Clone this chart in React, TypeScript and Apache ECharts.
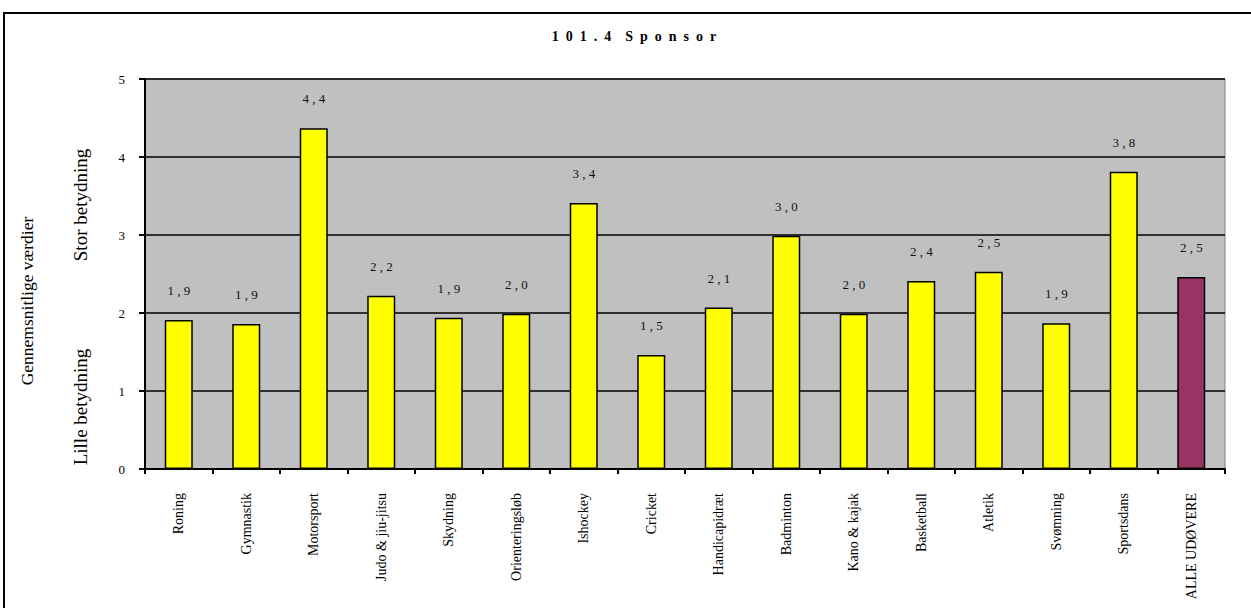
import React, { useEffect, useRef } from "react";
import * as echarts from "echarts";

const categories = [
  "Roning",
  "Gymnastik",
  "Motorsport",
  "Judo & jiu-jitsu",
  "Skydning",
  "Orienteringsløb",
  "Ishockey",
  "Cricket",
  "Handicapidræt",
  "Badminton",
  "Kano & kajak",
  "Basketball",
  "Atletik",
  "Svømning",
  "Sportsdans",
  "ALLE UDØVERE",
];

const values = [1.91, 1.86, 4.37, 2.22, 1.94, 1.99, 3.41, 1.46, 2.07, 2.99, 1.99, 2.41, 2.53, 1.87, 3.81, 2.46];

const yTicks = [0, 1, 2, 3, 4, 5];

const title = "1  0  1  .  4    S  p  o  n  s  o  r";
const yName = "Gennemsnitlige værdier";
const yHigh = "Stor betydning";
const yLow = "Lille betydning";

const SERIF = "Liberation Serif, Times New Roman, serif";

export default function App() {
  const ref = useRef<HTMLDivElement>(null);
  useEffect(() => {
    if (!ref.current) return;
    const chart = echarts.init(ref.current, null, { renderer: "svg" });
    const fmt = (v: number) => {
      const s = v.toFixed(1).split(".");
      return `${s[0]} , ${s[1]}`;
    };
    chart.setOption({
      animation: false,
      backgroundColor: "#ffffff",
      textStyle: { fontFamily: SERIF },
      grid: {
        left: 145,
        top: 79,
        width: 1080,
        height: 390,
        show: true,
        backgroundColor: "#C0C0C0",
        borderColor: "#808080",
        borderWidth: 1,
      },
      xAxis: {
        type: "category",
        data: categories,
        axisLine: { show: true, lineStyle: { color: "#000", width: 2 } },
        axisTick: { show: true, alignWithLabel: false, length: 5, lineStyle: { color: "#000", width: 2 } },
        axisLabel: {
          rotate: 90,
          margin: 24,
          interval: 0,
          fontSize: 14,
          color: "#000",
          fontFamily: SERIF,
        },
        splitLine: { show: false },
      },
      yAxis: {
        type: "value",
        min: yTicks[0],
        max: yTicks[yTicks.length - 1],
        interval: 1,
        axisLine: { show: true, lineStyle: { color: "#000", width: 2 } },
        axisTick: { show: true, length: 6, lineStyle: { color: "#000", width: 2 } },
        axisLabel: { margin: 20, fontSize: 13, color: "#000", fontFamily: SERIF },
        splitLine: { show: true, lineStyle: { color: "#000", width: 1.5 } },
      },
      series: [
        {
          type: "bar",
          barWidth: 28,
          data: values.map((v, i) => ({
            value: v,
            itemStyle: {
              color: i === values.length - 1 ? "#993366" : "#FFFF00",
              borderColor: "#000",
              borderWidth: 1.5,
            },
          })),
          label: {
            show: true,
            position: "top",
            distance: 23,
            fontSize: 13,
            color: "#111",
            fontFamily: SERIF,
            formatter: (p: any) => fmt(p.value),
          },
        },
      ],
      graphic: [
        {
          type: "rect",
          shape: { x: 4, y: 13, width: 1270, height: 640 },
          style: { fill: "none", stroke: "#000", lineWidth: 2 },
          silent: true,
        },
        {
          type: "text",
          x: 634,
          y: 36,
          style: {
            text: title,
            fontSize: 14,
            fontWeight: "bold",
            fontFamily: SERIF,
            fill: "#000",
            textAlign: "center",
            textVerticalAlign: "middle",
          },
        },
        {
          type: "text",
          x: 27,
          y: 301,
          rotation: Math.PI / 2,
          style: {
            text: yName,
            fontSize: 17.5,
            fontFamily: SERIF,
            fill: "#000",
            textAlign: "center",
            textVerticalAlign: "middle",
          },
        },
        {
          type: "text",
          x: 80,
          y: 205,
          rotation: Math.PI / 2,
          style: {
            text: yHigh,
            fontSize: 19,
            fontFamily: SERIF,
            fill: "#000",
            textAlign: "center",
            textVerticalAlign: "middle",
          },
        },
        {
          type: "text",
          x: 80,
          y: 407,
          rotation: Math.PI / 2,
          style: {
            text: yLow,
            fontSize: 19,
            fontFamily: SERIF,
            fill: "#000",
            textAlign: "center",
            textVerticalAlign: "middle",
          },
        },
      ],
    });
    return () => chart.dispose();
  }, []);
  return (
    <div
      ref={ref}
      style={{ position: "fixed", left: 0, top: 0, width: 1251, height: 608 }}
    />
  );
}
